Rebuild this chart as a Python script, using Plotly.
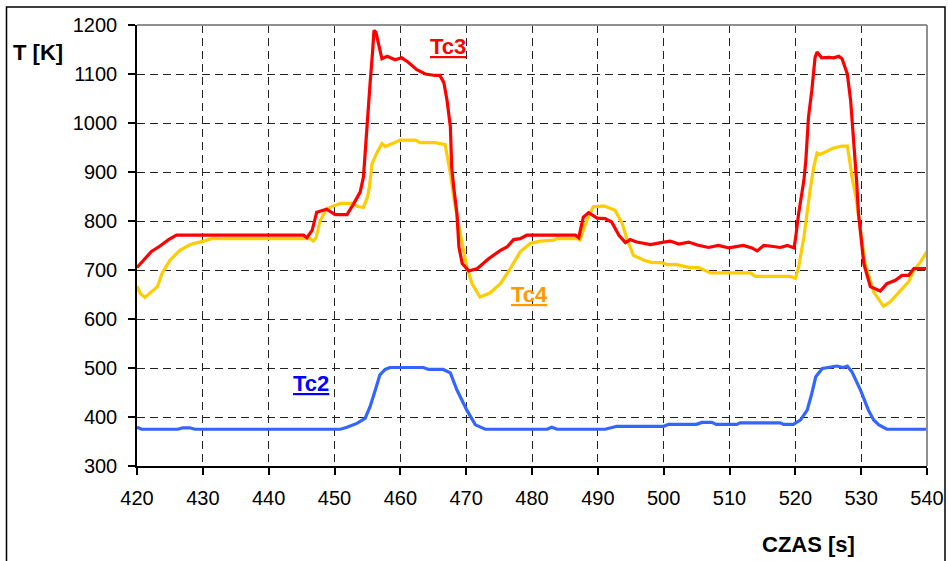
import plotly.graph_objects as go

# ---- data ----
t_tc2 = [420, 420.7, 426.2, 427.0, 428.0, 428.8, 430, 450.9, 451.9, 453.4, 454.65, 455.4, 456.2, 456.9,
         457.7, 458.4, 463.5, 464.3, 466.5, 467.6, 468.6, 470.1, 471.4, 472.9, 482.3, 483.0, 483.8,
         491.1, 492.9, 500.0, 500.75, 505.0, 505.8, 507.3, 508.0, 511.1, 511.6, 517.7, 518.2, 519.7,
         520.8, 521.8, 522.5, 523.1, 524.1, 525.1, 526.3, 527.3, 527.9, 528.6, 529.9, 531.1, 531.9,
         532.7, 533.9, 540]
T_tc2 = [379, 375, 375, 378, 378, 375, 375, 375, 379, 387, 397, 421, 455, 486,
         497, 501, 501, 497, 497, 490, 455, 414, 384, 375, 375, 379, 375,
         375, 381, 381, 385, 385, 389, 389, 385, 385, 388, 388, 385, 385,
         394, 414, 448, 482, 499, 502, 504, 501, 504, 492, 455, 414, 394,
         384, 375, 375]

t_tc3 = [420, 421, 422.2, 423.5, 424.8, 426.0, 445.3, 445.8, 446.6, 447.3, 448.1, 448.8, 450.1, 451.9,
         452.9, 453.9, 454.4, 454.9, 455.4, 455.8, 456.0, 456.3, 456.7, 457.2, 458.0, 459.2, 460.2,
         461.2, 462.5, 463.8, 465.3, 466.0, 466.6, 467.1, 467.6, 467.8, 468.1, 468.6, 468.9, 469.4,
         470.4, 471.7, 473.4, 475.2, 476.2, 477.2, 478.2, 479.2, 486.6, 487.1, 487.8, 488.6, 489.9,
         491.1, 492.1, 493.2, 494.2, 494.9, 495.9, 498.0, 500.0, 501.0, 502.3, 503.8, 505.1, 506.8,
         508.3, 509.9, 512.1, 513.4, 514.2, 515.2, 516.7, 517.7, 518.8, 519.8, 520.0, 520.5, 521.3,
         521.6, 522.0, 522.5, 523.0, 523.3, 524.0, 525.1, 525.8, 526.6, 527.1, 527.9, 528.4, 528.9,
         529.3, 529.6, 530.4, 531.4, 532.9, 533.9, 535.2, 536.2, 537.2, 538.0, 540]
T_tc3 = [705, 720, 738, 749, 762, 771, 771, 766, 781, 818, 822, 824, 813, 813,
         835, 859, 890, 992, 1080, 1148, 1189, 1185, 1162, 1131, 1136, 1129, 1133,
         1124, 1109, 1100, 1097, 1097, 1083, 1046, 992, 910, 870, 815, 747, 713,
         698, 703, 723, 740, 747, 762, 764, 771, 771, 766, 808, 817, 806,
         805, 798, 771, 756, 762, 757, 752, 757, 759, 753, 757, 751, 746,
         750, 745, 750, 745, 739, 750, 748, 746, 750, 745, 761, 815, 883,
         924, 1012, 1066, 1134, 1145, 1133, 1134, 1133, 1136, 1131, 1100, 1046, 960,
         883, 815, 713, 666, 657, 672, 679, 689, 689, 703, 703]

t_tc4 = [420, 420.5, 421.2, 422.2, 423.1, 423.8, 425.0, 426.5, 428.1, 430.1, 431.3, 446.3, 446.8, 447.2,
         447.8, 448.8, 450.9, 452.6, 453.6, 454.4, 455.0, 455.3, 455.7, 456.5, 457.2, 457.7, 458.5,
         460.0, 462.3, 463.0, 465.3, 466.8, 467.6, 468.2, 469.1, 470.1, 470.9, 472.1, 473.6, 475.2,
         476.7, 478.2, 479.7, 481.2, 483.3, 483.8, 486.8, 487.3, 488.3, 489.3, 490.9, 492.6, 493.7,
         494.4, 495.4, 497.0, 498.2, 499.7, 500.5, 502.0, 504.0, 505.3, 507.1, 508.6, 513.2, 513.9,
         519.2, 520.0, 520.5, 521.3, 522.0, 522.3, 522.8, 523.3, 523.8, 524.6, 525.8, 527.1, 527.9,
         528.4, 528.6, 529.2, 529.9, 530.6, 531.9, 533.4, 534.4, 536.0, 537.2, 538.0, 539.0, 540]
T_tc4 = [667, 652, 644, 655, 666, 693, 720, 740, 752, 759, 764, 764, 759, 766,
         800, 825, 836, 836, 829, 828, 849, 869, 917, 941, 958, 952, 956,
         965, 965, 960, 960, 956, 897, 842, 774, 706, 672, 645, 653, 672,
         703, 737, 754, 759, 761, 764, 764, 761, 801, 829, 831, 822, 795,
         764, 730, 720, 715, 715, 711, 711, 705, 705, 694, 694, 694, 687,
         687, 683, 706, 767, 842, 869, 910, 939, 936, 941, 949, 953, 953,
         910, 890, 849, 781, 713, 655, 626, 635, 659, 676, 700, 716, 738]

x_ticks = [420, 430, 440, 450, 460, 470, 480, 490, 500, 510, 520, 530, 540]
y_ticks = [300, 400, 500, 600, 700, 800, 900, 1000, 1100, 1200]

FONT = "Liberation Sans, Arial, sans-serif"

W, H = 948, 561
L, R, T, B = 137, 21, 24.5, 95
PW, PH = W - L - R, H - T - B


def px(xp):
    return (xp - L) / PW


def py(yp):
    return (H - B - yp) / PH


fig = go.Figure()
fig.add_trace(go.Scatter(x=t_tc4, y=T_tc4, mode="lines", name="Tc4",
                         line=dict(color="#FFCC00", width=3.2)))
fig.add_trace(go.Scatter(x=t_tc3, y=T_tc3, mode="lines", name="Tc3",
                         line=dict(color="#FF0000", width=3.2)))
fig.add_trace(go.Scatter(x=t_tc2, y=T_tc2, mode="lines", name="Tc2",
                         line=dict(color="#3366FF", width=3.2)))

fig.update_layout(
    width=W, height=H,
    margin=dict(l=L, r=R, t=T, b=B, autoexpand=False),
    paper_bgcolor="white", plot_bgcolor="white",
    showlegend=False,
    font=dict(family=FONT, size=20, color="black"),
)
common = dict(showline=True, linecolor="black", linewidth=1.5,
              ticks="outside", ticklen=7, tickcolor="black", tickwidth=1.5,
              showgrid=True, gridcolor="#222222", gridwidth=1, griddash="8px,5px",
              zeroline=False, tickfont=dict(size=20, family=FONT, color="black"))
fig.update_xaxes(range=[420, 540], tickvals=x_ticks, ticktext=[str(v) for v in x_ticks],
                 ticklabelstandoff=6, **common)
fig.update_yaxes(range=[300, 1200], tickvals=y_ticks, ticktext=[str(v) for v in y_ticks],
                 ticklabelstandoff=7, **common)

# plot-area border (top/right, gray) and outer chart frame (black)
fig.add_shape(type="line", xref="paper", yref="paper", x0=0, x1=1, y0=1, y1=1,
              line=dict(color="#909090", width=2), layer="above")
fig.add_shape(type="line", xref="paper", yref="paper", x0=1, x1=1, y0=0, y1=1,
              line=dict(color="#909090", width=2), layer="above")
fig.add_shape(type="rect", xref="paper", yref="paper",
              x0=px(6.5), x1=px(945), y0=py(566), y1=py(6.5),
              line=dict(color="black", width=1.5), layer="below")


def label(text, xp, yp, color):
    fig.add_annotation(text=text, xref="paper", yref="paper",
                       x=px(xp), y=py(yp), xanchor="center", yanchor="middle",
                       showarrow=False,
                       font=dict(size=22, family=FONT, color=color))


label("<b>T [K]</b>", 37.5, 52, "black")
label("<b>CZAS [s]</b>", 808.5, 545, "black")
label("<b><u>Tc3</u></b>", 447.5, 46, "#FF0000")
label("<b><u>Tc4</u></b>", 529, 294, "#FF9900")
label("<b><u>Tc2</u></b>", 310.5, 383, "#0000FF")

fig.write_html("out.html", config={"displayModeBar": False},
               post_script="document.body.style.margin='0px';")
